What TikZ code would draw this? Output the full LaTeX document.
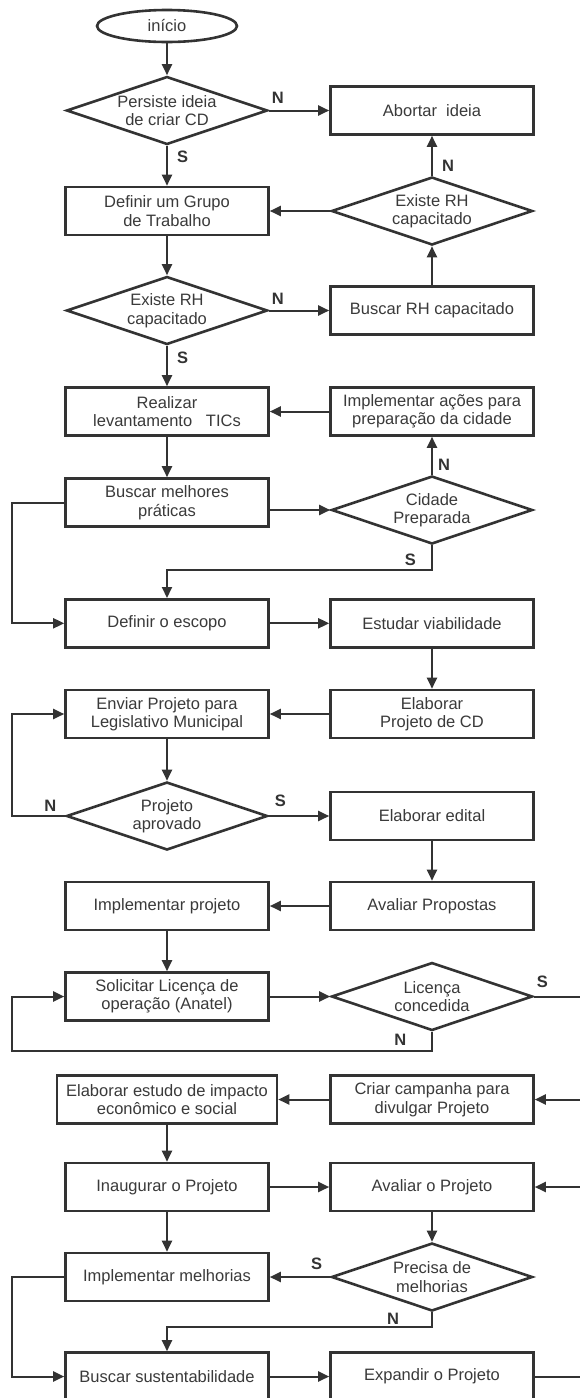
\documentclass[tikz,border=0pt]{standalone}
\usepackage{fontspec}
\setmainfont{Liberation Sans}
\usetikzlibrary{arrows.meta, shapes.geometric, calc}
\definecolor{cline}{HTML}{333333}
\definecolor{ctext}{HTML}{3A3A3A}
\tikzset{
  every picture/.style={line width=2pt},
  box/.style={draw=cline, line width=2.6pt, fill=white, text=ctext, align=center, inner sep=3pt, minimum width=203pt, minimum height=48pt, font=\fontsize{16.5}{18.5}\selectfont},
  decision/.style={box, shape=diamond, aspect=2.95, inner sep=0pt, minimum width=201pt, minimum height=68pt},
  terminal/.style={box, shape=ellipse, minimum width=140pt, minimum height=32pt},
  arrow/.style={-{Triangle[length=11pt, width=10pt]}, draw=cline, line width=2pt},
  answer/.style={font=\fontsize{16.5}{18}\selectfont\bfseries, text=cline, inner sep=2pt},
}

\begin{document}
\begin{tikzpicture}[x=1pt, y=-1pt]
  \useasboundingbox (0,0) rectangle (580,1398);
  \coordinate (lx) at (12,0);
  \coordinate (rt) at (592,0);
  % left column
  \node[terminal] (ini) at (167,26) {início};
  \node[decision] (persiste) at (167,110.5) {Persiste ideia\\de criar CD};
  \node[box] (grupo) at (167,211) {Definir um Grupo\\de Trabalho};
  \node[decision] (rhesq) at (167,310.5) {Existe RH\\capacitado};
  \node[box] (tic) at (167,411.5) {Realizar\\levantamento\ \ \ TICs};
  \node[box] (praticas) at (167,502.5) {Buscar melhores\\práticas};
  \node[box] (escopo) at (167,623.3) {Definir o escopo};
  \node[box] (envio) at (167,714) {Enviar Projeto para\\Legislativo Municipal};
  \node[decision] (aprovado) at (167,816) {Projeto\\aprovado};
  \node[box] (implproj) at (167,906) {Implementar projeto};
  \node[box] (licenca) at (167,996.5) {Solicitar Licença de\\operação (Anatel)};
  \node[box, minimum width=220pt] (impacto) at (167,1099.5) {Elaborar estudo de impacto\\econômico e social};
  \node[box] (inaug) at (167,1187) {Inaugurar o Projeto};
  \node[box] (melhorias) at (167,1277) {Implementar melhorias};
  \node[box] (sustent) at (167,1376.5) {Buscar sustentabilidade};
  % right column
  \node[box] (abortar) at (432,110.5) {Abortar\ \ ideia};
  \node[decision] (rhdir) at (432,211) {Existe RH\\capacitado};
  \node[box] (buscarh) at (432,310.5) {Buscar RH capacitado};
  \node[box] (acoes) at (432,411.5) {Implementar ações para\\preparação da cidade};
  \node[decision] (cidade) at (432,510) {Cidade\\Preparada};
  \node[box] (viab) at (432,623.3) {Estudar viabilidade};
  \node[box] (elabproj) at (432,714) {Elaborar\\Projeto de CD};
  \node[box] (edital) at (432,816) {Elaborar edital};
  \node[box] (propostas) at (432,906) {Avaliar Propostas};
  \node[decision] (concedida) at (432,996.5) {Licença\\concedida};
  \node[box] (campanha) at (432,1099.5) {Criar campanha para\\divulgar Projeto};
  \node[box] (avalproj) at (432,1187) {Avaliar o Projeto};
  \node[decision] (precisa) at (432,1277) {Precisa de\\melhorias};
  \node[box] (expandir) at (432,1376.5) {Expandir o Projeto};

  \draw[arrow] (ini) -- (persiste);
  \draw[arrow] (persiste.east) -- node[answer, pos=0, above right, yshift=4pt] {N} (abortar.west);
  \draw[arrow] (persiste) -- node[answer, pos=0.27, right=7pt] {S} (grupo);
  \draw[arrow] (rhdir.west) -- (grupo.east);
  \draw[arrow] (rhdir) -- node[answer, pos=0.26, right=7pt] {N} (abortar);
  \draw[arrow] (grupo) -- (rhesq);
  \draw[arrow] (rhesq.east) -- node[answer, pos=0, above right, yshift=3pt] {N} (buscarh.west);
  \draw[arrow] (buscarh) -- (rhdir);
  \draw[arrow] (rhesq) -- node[answer, pos=0.29, right=7pt] {S} (tic);
  \draw[arrow] (acoes.west) -- (tic.east);
  \draw[arrow] (tic) -- (praticas);
  \draw[arrow] (cidade) -- node[answer, pos=0.27, right=3pt] {N} (acoes);
  \draw[arrow] (praticas.east |- cidade.west) -- (cidade.west);
  \draw[arrow] (cidade.south) -- ++(0,25) -| node[answer, pos=0.041, above, yshift=2pt] {S} (escopo.north);
  \draw[arrow] (praticas.west) -- (lx |- praticas.west) |- (escopo.west);
  \draw[arrow] (escopo) -- (viab);
  \draw[arrow] (viab) -- (elabproj);
  \draw[arrow] (elabproj) -- (envio);
  \draw[arrow] (envio) -- (aprovado);
  \draw[arrow] (aprovado.west) -- node[answer, pos=0, above left, xshift=-6pt, yshift=2pt] {N} (lx |- aprovado.west) |- (envio.west);
  \draw[arrow] (aprovado.east) -- node[answer, pos=0, above right, xshift=3pt, yshift=6pt] {S} (edital.west);
  \draw[arrow] (edital) -- (propostas);
  \draw[arrow] (propostas) -- (implproj);
  \draw[arrow] (implproj) -- (licenca);
  \draw[arrow] (licenca.east) -- (concedida.west);
  \draw[arrow] (concedida.south) -- ++(0,19.5) -| node[answer, pos=0.0376, above, yshift=3pt] {N} (lx |- licenca.west) -- (licenca.west);
  % the line on the right runs past the edge of the page
  \draw[arrow] (concedida.east) -- node[answer, pos=0, above right, yshift=5.5pt] {S} (rt |- concedida.east) |- (campanha.east);
  \draw[arrow] (campanha.west) -- (impacto.east);
  \draw[arrow] (impacto) -- (inaug);
  \draw[arrow] (inaug) -- (avalproj);
  \draw[arrow] (inaug) -- (melhorias);
  \draw[arrow] (avalproj) -- (precisa);
  \draw[arrow] (precisa.west) -- node[answer, pos=0, above left, xshift=-5pt, yshift=4pt] {S} (melhorias.east);
  \draw[arrow] (precisa.south) -- ++(0,15) -| node[answer, pos=0.0736, above] {N} (sustent.north);
  \draw[arrow] (melhorias.west) -- (lx |- melhorias.west) |- (sustent.west);
  \draw[arrow] (sustent) -- (expandir);
  \draw[arrow] (expandir.east) -- (rt |- expandir.east) |- (avalproj.east);
\end{tikzpicture}
\end{document}
